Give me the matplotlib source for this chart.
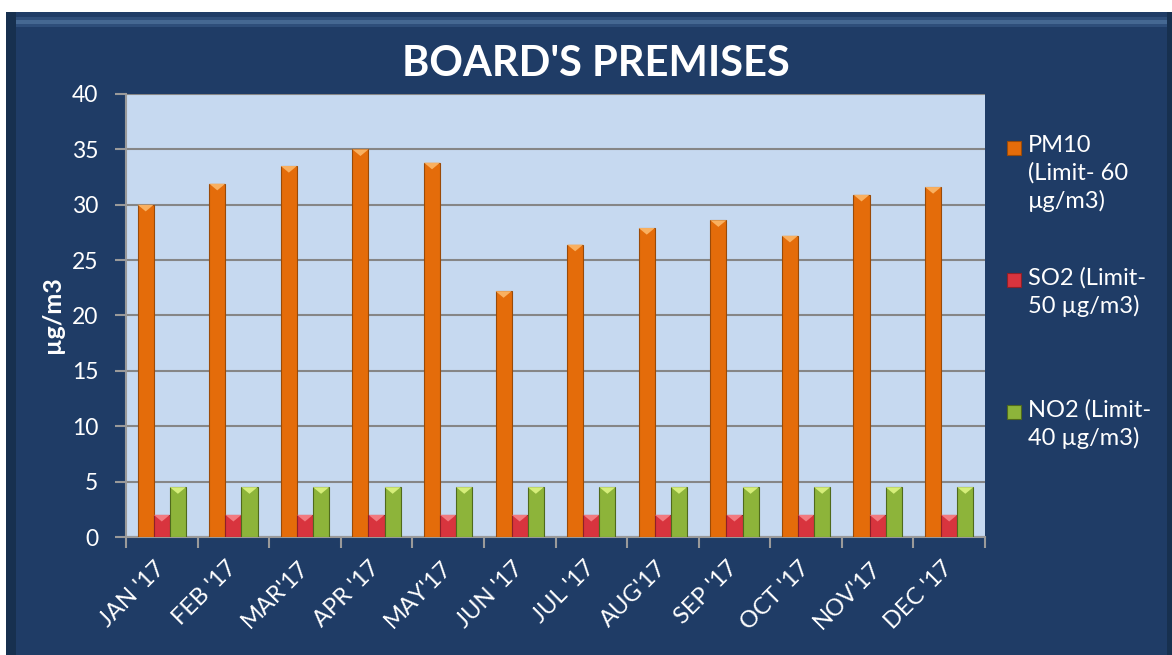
import matplotlib.pyplot as plt
from matplotlib.patches import Rectangle, Polygon
from matplotlib.transforms import ScaledTranslation
import numpy as np

plt.rcParams['font.family'] = ['Lato', 'DejaVu Sans']

# data
months = ["JAN '17", "FEB '17", "MAR'17", "APR '17", "MAY'17", "JUN '17",
          "JUL '17", "AUG'17", "SEP '17", "OCT '17", "NOV'17", "DEC '17"]
pm10 = [30.0, 31.9, 33.5, 35.0, 33.8, 22.2, 26.4, 27.9, 28.6, 27.2, 30.9, 31.6]
so2 = [2, 2, 2, 2, 2, 2, 2, 2, 2, 2, 2, 2]
no2 = [4.5, 4.5, 4.5, 4.5, 4.5, 4.5, 4.5, 4.5, 4.5, 4.5, 4.5, 4.5]
labels = ["PM10\n(Limit- 60\n\u00b5g/m3)", "SO2 (Limit-\n50 \u00b5g/m3)", "NO2 (Limit-\n40 \u00b5g/m3)"]
colors = ["#E46C0A", "#D8343E", "#8DB43A"]
tops = ["#F9B060", "#F27A80", "#D6EE7A"]
edges = ["#9A4A08", "#8E2028", "#4F6A1C"]

bg = "#1F3C66"
fig = plt.figure(figsize=(11.72, 6.55), dpi=100)
fig.patch.set_facecolor("white")
fig.add_artist(Rectangle((6 / 1172, 0), 1, 1 - 12 / 655, transform=fig.transFigure,
                         facecolor=bg, edgecolor="none", zorder=0))
# bevel look along the edges
fig.add_artist(Rectangle((6 / 1172, 1 - 27 / 655), 1, 10 / 655, transform=fig.transFigure,
                         facecolor="#2E4E7A", edgecolor="none", zorder=0))
fig.add_artist(Rectangle((6 / 1172, 1 - 24 / 655), 1, 4 / 655, transform=fig.transFigure,
                         facecolor="#456892", edgecolor="none", zorder=0))
fig.add_artist(Rectangle((6 / 1172, 0), 10 / 1172, 1 - 12 / 655, transform=fig.transFigure,
                         facecolor="#17304F", edgecolor="none", zorder=0))
fig.add_artist(Rectangle((1167 / 1172, 0), 5 / 1172, 1 - 12 / 655, transform=fig.transFigure,
                         facecolor="#17304F", edgecolor="none", zorder=0))

ax = fig.add_axes([126 / 1172, 1 - 537 / 655, 859 / 1172, 443 / 655])
ax.set_facecolor("#C6D9F0")

x = np.arange(len(months))
w = 0.225
for i, (vals, c, t, e) in enumerate(zip([pm10, so2, no2], colors, tops, edges)):
    bars = ax.bar(x + (i - 1) * w, vals, w, color=c, edgecolor=e, linewidth=0.8, zorder=3)
    for b in bars:
        x0, x1 = b.get_x(), b.get_x() + b.get_width()
        h = b.get_height()
        ax.add_patch(Polygon([(x0, h), (x1, h), ((x0 + x1) / 2, h - 0.6)],
                             closed=True, facecolor=t, edgecolor="none", zorder=4))

ax.set_ylim(0, 40)
ax.set_xlim(-0.5, len(months) - 0.5)
ax.set_yticks(range(0, 41, 5))
ax.yaxis.grid(True, color="#868686", linewidth=1.5, zorder=1)
ax.set_axisbelow(True)
ax.set_xticks(x)
ax.set_xticklabels(months, rotation=45, ha="right", va="center", rotation_mode="anchor")
shift = ScaledTranslation(6 / 100, 0, fig.dpi_scale_trans)
for lbl in ax.get_xticklabels():
    lbl.set_transform(lbl.get_transform() + shift)
ax.set_xticks(np.arange(-0.5, len(months), 1), minor=True)
ax.tick_params(axis="x", which="major", length=0, pad=20, labelsize=17, labelcolor="white")
ax.tick_params(axis="x", which="minor", length=8, width=1.5, color="#9A9A9A")
ax.tick_params(axis="y", length=8, width=1.5, color="#9A9A9A", labelsize=16.5,
               labelcolor="white", pad=12)
for s in ["top", "right"]:
    ax.spines[s].set_visible(False)
for s in ["left", "bottom"]:
    ax.spines[s].set_color("#9A9A9A")
    ax.spines[s].set_linewidth(1.5)

fig.text(53 / 1172, 1 - 315 / 655, "\u00b5g/m3", color="white", fontsize=18,
         fontweight="bold", rotation=90, ha="center", va="center")
fig.text(596 / 1172, 1 - 64 / 655, "BOARD'S PREMISES", color="white", fontsize=30,
         fontweight="bold", ha="center", va="center")

# legend, handle level with first line of each entry
leg_y = [148, 280, 412]
for lab, c, e, yy in zip(labels, colors, edges, leg_y):
    fig.add_artist(Rectangle((1007 / 1172, 1 - (yy + 7) / 655), 14 / 1172, 14 / 655,
                             transform=fig.transFigure, facecolor=c, edgecolor=e,
                             linewidth=0.8))
    fig.text(1028 / 1172, 1 - (yy - 13) / 655, lab, color="white", fontsize=17,
             ha="left", va="top", linespacing=1.35)

fig.savefig("out.png", dpi=100, facecolor=fig.get_facecolor())
